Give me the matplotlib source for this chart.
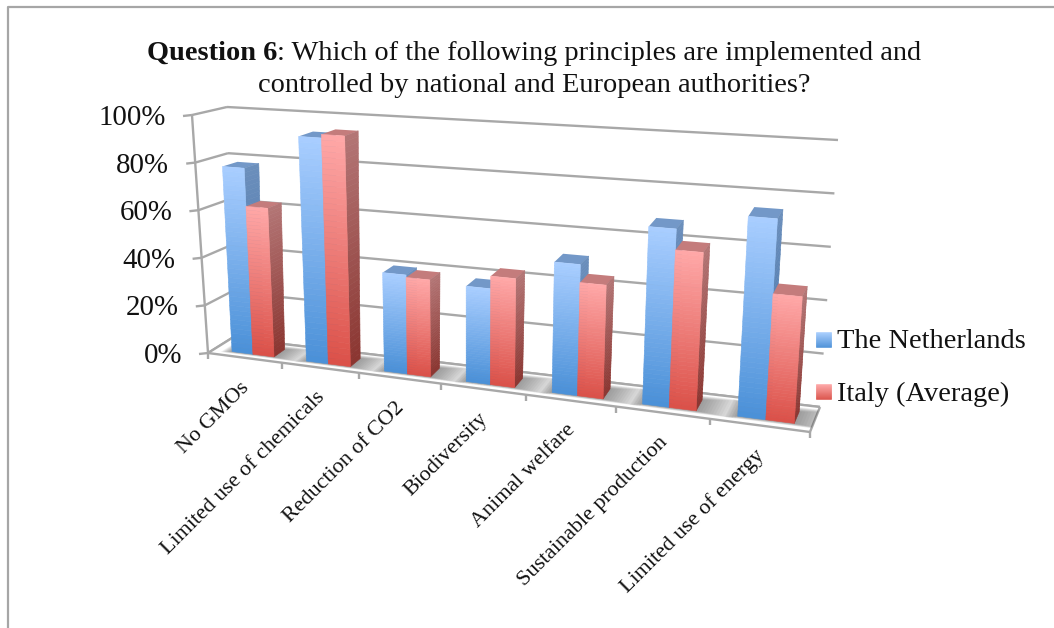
import numpy as np
import matplotlib
matplotlib.use("Agg")
import matplotlib.pyplot as plt
from matplotlib.collections import PolyCollection
from matplotlib.colors import to_rgb
from matplotlib.patches import Polygon

categories = ["No GMOs", "Limited use of chemicals", "Reduction of CO2", "Biodiversity",
              "Animal welfare", "Sustainable production", "Limited use of energy"]
netherlands = [78, 93, 40, 38, 51, 68, 75]
italy = [62, 94.5, 39, 43, 44, 60, 47]
series_names = ["The Netherlands", "Italy (Average)"]
y_ticks = [0, 20, 40, 60, 80, 100]
title_bold = "Question 6"
title_rest = ": Which of the following principles are implemented and"
title_line2 = "controlled by national and European authorities?"

W, H = 1054, 628
FONT = "Liberation Serif"
GRID = "#A8A8A8"
# wall / floor corners of the pseudo-3D frame, in figure pixels
FL0, FL1 = np.array([208., 353.]), np.array([192., 115.])
FR0, FR1 = np.array([810., 432.]), np.array([828., 160.])
BL0, BL1 = np.array([232., 338.]), np.array([227., 107.])
BR0, BR1 = np.array([820., 407.]), np.array([838., 140.])
PERSP = 1.19
BLUE = dict(front=("#A9CEFF", "#4A90D8"), side=("#6C8FBC", "#3F70A8"), top="#7398C8")
RED = dict(front=("#FFA8A8", "#DB5048"), side=("#B47676", "#8A3530"), top="#C47C7C")


def project(u, d, v):
    """u: 0..1 along the category axis, d: 0..1 depth, v: value in percent."""
    t = u / (u + PERSP * (1 - u))
    s = v / 100.0
    front = (FL0 * (1 - t) + FR0 * t) * (1 - s) + (FL1 * (1 - t) + FR1 * t) * s
    back = (BL0 * (1 - t) + BR0 * t) * (1 - s) + (BL1 * (1 - t) + BR1 * t) * s
    return front * (1 - d) + back * d


def gradient_quad(ax, tl, tr, br, bl, top_col, bot_col, n=40, zorder=4):
    polys, cols = [], []
    c0, c1 = np.array(to_rgb(top_col)), np.array(to_rgb(bot_col))
    for i in range(n):
        a, b = i / n, (i + 1) / n
        polys.append([tl + (bl - tl) * a, tr + (br - tr) * a, tr + (br - tr) * b, tl + (bl - tl) * b])
        cols.append(c0 + (c1 - c0) * (a + b) / 2)
    ax.add_collection(PolyCollection(polys, facecolors=cols, edgecolors=cols, linewidths=0.4, zorder=zorder))


def line(ax, p, q, lw=1.7, color=GRID, zorder=1):
    ax.plot([p[0], q[0]], [p[1], q[1]], color=color, lw=lw, solid_capstyle="butt", zorder=zorder)


fig = plt.figure(figsize=(W / 100, H / 100), dpi=100)
ax = fig.add_axes([0, 0, 1, 1])
ax.set_xlim(0, W)
ax.set_ylim(H, 0)
ax.axis("off")

# outer frame
ax.plot([7.5, 7.5, W], [H, 6.5, 6.5], color="#A6A6A6", lw=1.6)

# gridlines on the walls and the value axis ticks
for v in y_ticks:
    front = project(0, 0, v)
    back = project(0, 1, v)
    right = project(1, 1, v)
    line(ax, front, back)
    line(ax, back, right)
    line(ax, front + np.array([-9, 1]), front)
    ax.text(front[0] - 26, front[1] + 3, f"{v}%", ha="right", va="center",
            fontsize=20.8, family=FONT, color="#111111")
line(ax, project(0, 0, 0), project(0, 0, 100))

# floor
floor_pts = [project(0, 0, 0), project(1, 0, 0), project(1, 1, 0), project(0, 1, 0)]
floor = Polygon(floor_pts, closed=True, facecolor="white", edgecolor="none", zorder=1.5)
ax.add_patch(floor)
line(ax, floor_pts[0], floor_pts[1], zorder=2)
line(ax, floor_pts[1], floor_pts[2], zorder=2)
line(ax, floor_pts[3], floor_pts[2], zorder=2)
line(ax, floor_pts[0], floor_pts[3], zorder=2)
for k in range(len(categories) + 1):
    p = project(k / len(categories), 0, 0)
    line(ax, p, p + np.array([0, 6]), zorder=2)

# bars
n = len(categories)
B0, BM, B1 = 0.25, 0.535, 0.82
D0, D1 = 0.25, 0.72
for i in range(n):
    u0, um, u1 = (i + B0) / n, (i + BM) / n, (i + B1) / n
    # soft floor shadow
    for e in np.linspace(0.06, 0.004, 14):
        eu, ed = e, e * 3.0
        shadow = Polygon([project(u0 - eu * 0.3, D0 - ed * 0.55, 0), project(u1 + eu, D0 - ed * 0.55, 0),
                          project(u1 + eu, D1 + ed, 0), project(u0 - eu * 0.3, D1 + ed, 0)],
                         closed=True, facecolor="#505050", edgecolor="none", alpha=0.05, zorder=3)
        ax.add_patch(shadow)
        shadow.set_clip_path(floor)
    for a, b, val, style in ((u0, um, netherlands[i], BLUE), (um, u1, italy[i], RED)):
        ax.add_patch(Polygon([project(a, D0, val), project(b, D0, val), project(b, D1, val), project(a, D1, val)],
                             closed=True, facecolor=style["top"], edgecolor="none", zorder=4))
        gradient_quad(ax, project(b, D0, val), project(b, D1, val), project(b, D1, 0), project(b, D0, 0),
                      *style["side"])
        gradient_quad(ax, project(a, D0, val), project(b, D0, val), project(b, D0, 0), project(a, D0, 0),
                      *style["front"])
    mid = project((i + 0.5) / n, 0, 0)
    ax.text(mid[0] + 2, mid[1] + 27, categories[i], rotation=45, rotation_mode="anchor",
            ha="right", va="center", fontsize=15.9, family=FONT, color="#111111", zorder=5)

# legend
for k, (name, style) in enumerate(zip(series_names, (BLUE, RED))):
    y0 = 332 + 52 * k
    gradient_quad(ax, np.array([816., y0]), np.array([831., y0]), np.array([831., y0 + 15]),
                  np.array([816., y0 + 15]), *style["front"], n=15, zorder=5)
    ax.text(837, y0 + 10, name, ha="left", va="center", fontsize=20.5, family=FONT, color="#111111", zorder=5)

# title with a bold lead-in, centred as one line
fig.canvas.draw()
r = fig.canvas.get_renderer()
TS = 20.4
t1 = ax.text(0, 53, title_bold, fontsize=TS, family=FONT, fontweight="bold", va="center", color="#111111")
t2 = ax.text(0, 53, title_rest, fontsize=TS, family=FONT, va="center", color="#111111")
w1, w2 = t1.get_window_extent(r).width, t2.get_window_extent(r).width
x0 = 534 - (w1 + w2) / 2
t1.set_x(x0)
t2.set_x(x0 + w1)
ax.text(534, 85, title_line2, fontsize=TS, family=FONT, ha="center", va="center", color="#111111")

fig.savefig("out.png", dpi=100)
